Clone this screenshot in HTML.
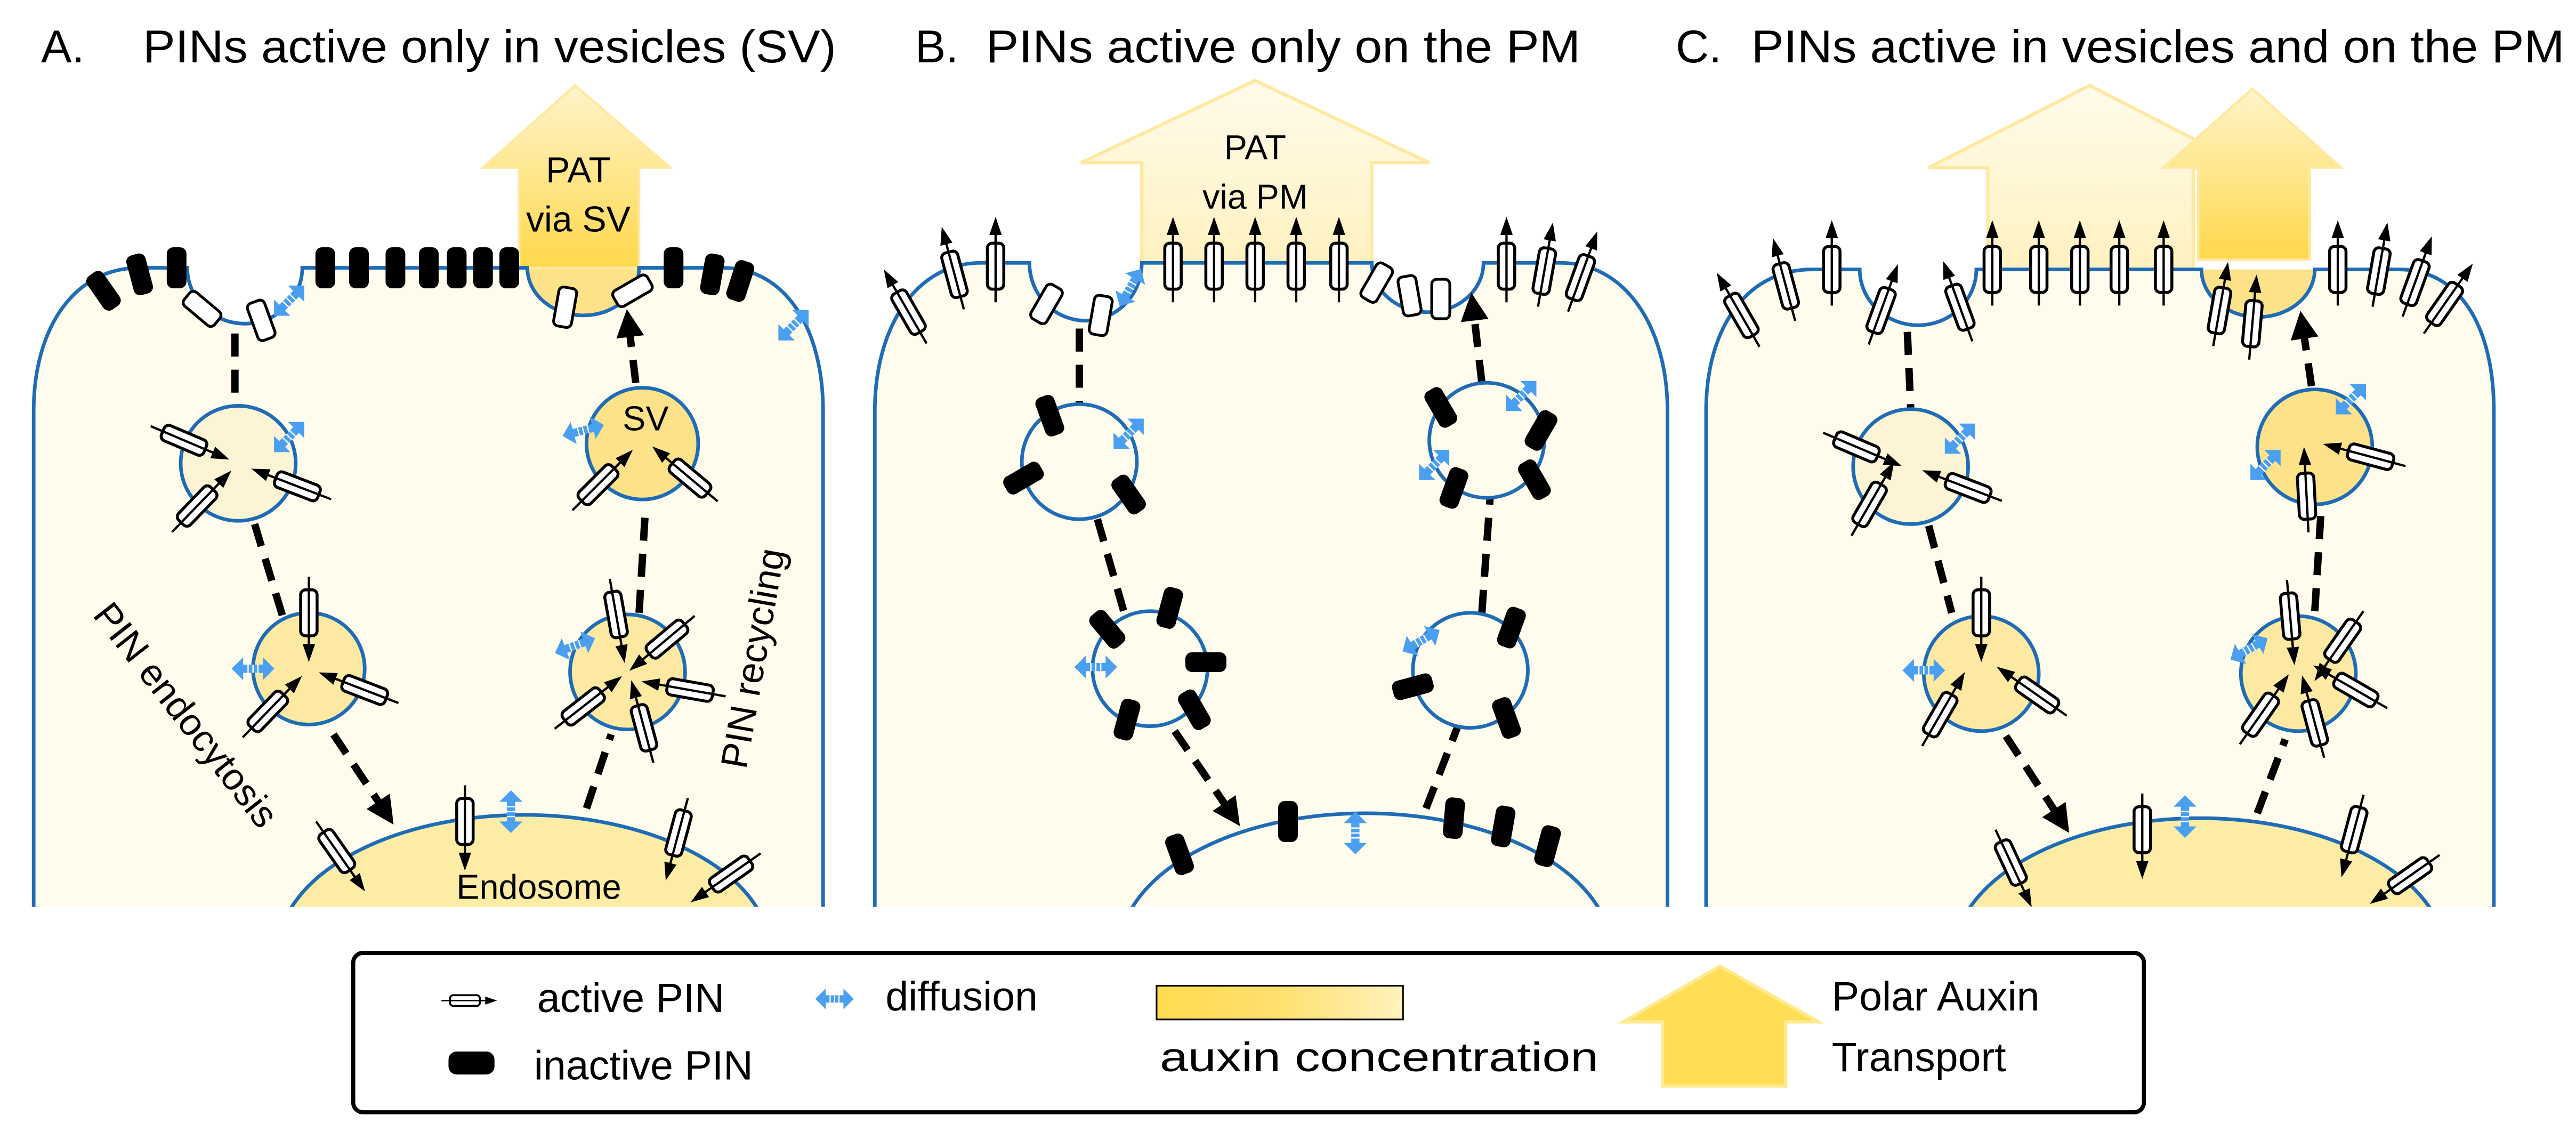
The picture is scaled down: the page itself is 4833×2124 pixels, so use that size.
<!DOCTYPE html>
<html><head><meta charset="utf-8"><style>
html,body{margin:0;padding:0;background:#fff}
svg{display:block}
text{font-family:"Liberation Sans",Arial,sans-serif;fill:#000}
</style></head><body>
<svg width="4833" height="2124" viewBox="0 0 1568 689" preserveAspectRatio="none" xmlns="http://www.w3.org/2000/svg">
<defs>
<linearGradient id="gA" x1="0" y1="0" x2="0" y2="1"><stop offset="0" stop-color="#fff4cc"/><stop offset="1" stop-color="#ffd84a"/></linearGradient>
<linearGradient id="gL" x1="0" y1="0" x2="0" y2="1"><stop offset="0" stop-color="#fffbeb"/><stop offset="1" stop-color="#fff1c0"/></linearGradient>
<linearGradient id="gH" x1="0" y1="0" x2="1" y2="0"><stop offset="0" stop-color="#ffdb4f"/><stop offset="0.5" stop-color="#ffe070"/><stop offset="1" stop-color="#fff2bd"/></linearGradient>
<clipPath id="cut"><rect x="0" y="0" width="1568" height="552"/></clipPath>
<marker id="ah" viewBox="0 0 10 10" refX="3" refY="5" markerWidth="20" markerHeight="17" markerUnits="userSpaceOnUse" orient="auto"><path d="M0,0 L10,5 L0,10 z" fill="#000"/></marker>
<g id="ap"><rect x="-5" y="-14" width="10" height="28" rx="3" fill="#fff" stroke="#000" stroke-width="1.8"/><line x1="0" y1="22" x2="0" y2="-20" stroke="#000" stroke-width="1.4"/><polygon points="0,-30 -3.8,-19 3.8,-19" fill="#000"/></g>
<g id="wp"><rect x="-5.5" y="-12" width="11" height="24" rx="3" fill="#fff" stroke="#000" stroke-width="1.7"/></g>
<g id="ip"><rect x="-6" y="-12.5" width="12" height="25" rx="4" fill="#000"/></g>
<g id="df"><polygon points="-13,0 -6,-7 -6,-2.5 6,-2.5 6,-7 13,0 6,7 6,2.5 -6,2.5 -6,7" fill="#4a9ff0"/><g stroke="#fff" stroke-width="0.8"><line x1="-3" y1="-2.5" x2="-3" y2="2.5"/><line x1="0" y1="-2.5" x2="0" y2="2.5"/><line x1="3" y1="-2.5" x2="3" y2="2.5"/></g></g>
</defs>

<!-- Titles -->
<text x="25" y="38" font-size="28">A.</text>
<text x="87" y="38" font-size="28" textLength="422" lengthAdjust="spacingAndGlyphs">PINs active only in vesicles (SV)</text>
<text x="557" y="38" font-size="28">B.</text>
<text x="600" y="38" font-size="28" textLength="362" lengthAdjust="spacingAndGlyphs">PINs active only on the PM</text>
<text x="1020" y="38" font-size="28">C.</text>
<text x="1066" y="38" font-size="28" textLength="495" lengthAdjust="spacingAndGlyphs">PINs active in vesicles and on the PM</text>

<!-- ===== Cell A ===== -->
<path d="M20.5,552 V250 C20.5,200 45,163 85,163 H114 A35,34 0 0 0 184,163 H321 A34,29 0 0 0 389,163 H440 C478,163 501,200 501,250 V552 Z" fill="#fffcee"/>
<path d="M321,163 A34,29 0 0 0 389,163 Z" fill="#fde28a"/>
<polygon points="350,52 408,102 389,102 389,163 316,163 316,102 294,102" fill="url(#gA)" stroke="#ffe9a0" stroke-width="1.5"/>
<path d="M20.5,552 V250 C20.5,200 45,163 85,163 H114 A35,34 0 0 0 184,163 H321 A34,29 0 0 0 389,163 H440 C478,163 501,200 501,250 V552" fill="none" stroke="#1f6cb5" stroke-width="2.2"/>
<text x="352" y="111" font-size="22" text-anchor="middle">PAT</text>
<text x="352" y="141" font-size="22" text-anchor="middle">via SV</text>
<use href="#ip" transform="translate(63,177) rotate(-35)"/>
<use href="#ip" transform="translate(85,167) rotate(-15)"/>
<use href="#ip" transform="translate(107.5,163)"/>
<use href="#ip" transform="translate(198,163)"/><use href="#ip" transform="translate(218.5,163)"/><use href="#ip" transform="translate(240.7,163)"/><use href="#ip" transform="translate(261,163)"/><use href="#ip" transform="translate(278,163)"/><use href="#ip" transform="translate(294,163)"/><use href="#ip" transform="translate(310,163)"/>
<use href="#ip" transform="translate(410,163)"/>
<use href="#ip" transform="translate(433.6,167) rotate(10)"/>
<use href="#ip" transform="translate(450.6,171) rotate(18)"/>
<use href="#wp" transform="translate(123,188) rotate(-50)"/>
<use href="#wp" transform="translate(159,195) rotate(-20)"/>
<use href="#wp" transform="translate(344,187) rotate(10)"/>
<use href="#wp" transform="translate(385,177) rotate(60)"/>
<use href="#df" transform="translate(176,183) rotate(-45)"/>
<use href="#df" transform="translate(483,198) rotate(-45)"/>
<g stroke="#000" stroke-width="4.5" stroke-dasharray="14 8" fill="none">
<path d="M143,203 L143,248"/>
<path d="M155,319 L172,375"/>
<path d="M203,447 L233,492" marker-end="url(#ah)"/>
<path d="M357,492 L372,447"/>
<path d="M389,373 L393,308"/>
<path d="M387,233 L383,200" marker-end="url(#ah)"/>
</g>
<ellipse cx="319" cy="580" rx="150" ry="84" fill="#fdeca5" stroke="#1f6cb5" stroke-width="2.2" clip-path="url(#cut)"/>
<text x="328" y="547" font-size="21" text-anchor="middle">Endosome</text>
<use href="#ap" transform="translate(205,518) rotate(145)"/>
<use href="#ap" transform="translate(283,500) rotate(180)"/>
<use href="#ap" transform="translate(413,507) rotate(195)"/>
<use href="#ap" transform="translate(445,532) rotate(235)"/>
<use href="#df" transform="translate(311,494) rotate(90)"/>
<circle cx="145" cy="282" r="35" fill="#fdf4d6" stroke="#1f6cb5" stroke-width="2.2"/>
<use href="#ap" transform="translate(112,268) rotate(113)"/>
<use href="#ap" transform="translate(181,296) rotate(-69)"/>
<use href="#ap" transform="translate(120,308) rotate(44)"/>
<use href="#df" transform="translate(176,266) rotate(-45)"/>
<circle cx="188" cy="407" r="34" fill="#fde9a2" stroke="#1f6cb5" stroke-width="2.2"/>
<use href="#ap" transform="translate(188,373) rotate(180)"/>
<use href="#ap" transform="translate(222,420) rotate(-69)"/>
<use href="#ap" transform="translate(163,433) rotate(44)"/>
<use href="#df" transform="translate(154,407)"/>
<circle cx="382" cy="409" r="35" fill="#fde9a2" stroke="#1f6cb5" stroke-width="2.2"/>
<use href="#ap" transform="translate(375,374) rotate(170)"/>
<use href="#ap" transform="translate(406,389) rotate(230)"/>
<use href="#ap" transform="translate(420,420) rotate(280)"/>
<use href="#ap" transform="translate(355,430) rotate(52)"/>
<use href="#ap" transform="translate(392,443) rotate(-15)"/>
<use href="#df" transform="translate(350,393) rotate(-20)"/>
<circle cx="391" cy="270" r="34" fill="#fde28a" stroke="#1f6cb5" stroke-width="2.2"/>
<text x="393" y="262" font-size="21" text-anchor="middle">SV</text>
<use href="#ap" transform="translate(364,295) rotate(45)"/>
<use href="#ap" transform="translate(420,291) rotate(-50)"/>
<use href="#df" transform="translate(355,262) rotate(-15)"/>
<text transform="translate(107,440) rotate(52)" font-size="23" text-anchor="middle">PIN endocytosis</text>
<text transform="translate(466,402) rotate(-80)" font-size="23" text-anchor="middle">PIN recycling</text>

<!-- ===== Cell B ===== -->
<path d="M532.5,552 V250 C532.5,200 557,160 597,160 H626.6 A34,35 0 0 0 695,160 H835 A34,30 0 0 0 903,160 H950 C990,160 1015,200 1015,250 V552 Z" fill="#fffcee"/>
<polygon points="764,49 870,99 835,99 835,160 695,160 695,99 658,99" fill="url(#gL)" stroke="#ffe8a0" stroke-width="2"/>
<path d="M532.5,552 V250 C532.5,200 557,160 597,160 H626.6 A34,35 0 0 0 695,160 H835 A34,30 0 0 0 903,160 H950 C990,160 1015,200 1015,250 V552" fill="none" stroke="#1f6cb5" stroke-width="2.2"/>
<text x="764" y="97" font-size="21" text-anchor="middle">PAT</text>
<text x="764" y="127" font-size="21" text-anchor="middle">via PM</text>
<use href="#ap" transform="translate(714,162)"/><use href="#ap" transform="translate(739,162)"/><use href="#ap" transform="translate(764,162)"/><use href="#ap" transform="translate(789,162)"/><use href="#ap" transform="translate(815,162)"/>
<use href="#ap" transform="translate(553,190) rotate(-30)"/>
<use href="#ap" transform="translate(581,167) rotate(-15)"/>
<use href="#ap" transform="translate(606,162)"/>
<use href="#ap" transform="translate(917,162)"/>
<use href="#ap" transform="translate(940,165) rotate(10)"/>
<use href="#ap" transform="translate(962,169) rotate(20)"/>
<use href="#wp" transform="translate(637,185) rotate(30)"/>
<use href="#wp" transform="translate(670,192) rotate(10)"/>
<use href="#df" transform="translate(688,175) rotate(-60)"/>
<use href="#wp" transform="translate(838,172) rotate(30)"/>
<use href="#wp" transform="translate(858,180) rotate(-10)"/>
<use href="#wp" transform="translate(877,182)"/>
<g stroke="#000" stroke-width="4.5" stroke-dasharray="14 8" fill="none">
<path d="M657,200 L657,246"/>
<path d="M668,316 L684,372"/>
<path d="M715,445 L748,493" marker-end="url(#ah)"/>
<path d="M868,492 L887,443"/>
<path d="M902,373 L907,303"/>
<path d="M902,233 L897,190" marker-end="url(#ah)"/>
</g>
<ellipse cx="831" cy="580" rx="150" ry="85" fill="#fffcee" stroke="#1f6cb5" stroke-width="2.2" clip-path="url(#cut)"/>
<use href="#ip" transform="translate(718,520) rotate(-20)"/>
<use href="#ip" transform="translate(784,500)"/>
<use href="#ip" transform="translate(885,498) rotate(5)"/>
<use href="#ip" transform="translate(915,503) rotate(10)"/>
<use href="#ip" transform="translate(942,515) rotate(15)"/>
<use href="#df" transform="translate(825,507) rotate(90)"/>
<circle cx="657" cy="281" r="35" fill="#fffcee" stroke="#1f6cb5" stroke-width="2.2"/>
<use href="#ip" transform="translate(639,253) rotate(-20)"/>
<use href="#ip" transform="translate(623,291) rotate(60)"/>
<use href="#ip" transform="translate(687,301) rotate(-35)"/>
<use href="#df" transform="translate(687,264) rotate(-45)"/>
<circle cx="700" cy="407" r="35" fill="#fffcee" stroke="#1f6cb5" stroke-width="2.2"/>
<use href="#ip" transform="translate(712,370) rotate(15)"/>
<use href="#ip" transform="translate(674,383) rotate(-40)"/>
<use href="#ip" transform="translate(734,403) rotate(90)"/>
<use href="#ip" transform="translate(727,432) rotate(-30)"/>
<use href="#ip" transform="translate(686,438) rotate(15)"/>
<use href="#df" transform="translate(667,406)"/>
<circle cx="895" cy="408" r="35" fill="#fffcee" stroke="#1f6cb5" stroke-width="2.2"/>
<use href="#ip" transform="translate(920,382) rotate(20)"/>
<use href="#ip" transform="translate(860,418) rotate(75)"/>
<use href="#ip" transform="translate(917,437) rotate(-20)"/>
<use href="#df" transform="translate(865,390) rotate(-30)"/>
<circle cx="905" cy="268" r="35" fill="#fffcee" stroke="#1f6cb5" stroke-width="2.2"/>
<use href="#ip" transform="translate(877,248) rotate(-30)"/>
<use href="#ip" transform="translate(938,262) rotate(30)"/>
<use href="#ip" transform="translate(934,292) rotate(-30)"/>
<use href="#ip" transform="translate(885,297) rotate(20)"/>
<use href="#df" transform="translate(926,241) rotate(-45)"/>
<use href="#df" transform="translate(873,283) rotate(-45)"/>

<!-- ===== Cell C ===== -->
<path d="M1038.5,552 V250 C1038.5,200 1063,164 1103,164 H1132 A35.5,34 0 0 0 1203,164 H1340 A34.5,29 0 0 0 1409,164 H1460 C1498,164 1518,200 1518,250 V552 Z" fill="#fffcee"/>
<polygon points="1272,52 1369,102 1335,102 1335,164 1210,164 1210,102 1174,102" fill="url(#gL)" stroke="#ffe8a0" stroke-width="2"/>
<path d="M1340,164 A34.5,29 0 0 0 1409,164 Z" fill="#fde28a"/>
<polygon points="1371,54 1425,102 1406,102 1406,158 1338,158 1338,102 1317,102" fill="url(#gA)" stroke="#ffe9a0" stroke-width="1.5"/>
<path d="M1038.5,552 V250 C1038.5,200 1063,164 1103,164 H1132 A35.5,34 0 0 0 1203,164 H1340 A34.5,29 0 0 0 1409,164 H1460 C1498,164 1518,200 1518,250 V552" fill="none" stroke="#1f6cb5" stroke-width="2.2"/>
<use href="#ap" transform="translate(1212.7,164)"/><use href="#ap" transform="translate(1241,164)"/><use href="#ap" transform="translate(1266,164)"/><use href="#ap" transform="translate(1290,164)"/><use href="#ap" transform="translate(1317,164)"/>
<use href="#ap" transform="translate(1060,192) rotate(-30)"/>
<use href="#ap" transform="translate(1087,174) rotate(-15)"/>
<use href="#ap" transform="translate(1115,164)"/>
<use href="#ap" transform="translate(1145,189) rotate(20)"/>
<use href="#ap" transform="translate(1193,187) rotate(-20)"/>
<use href="#ap" transform="translate(1351,189) rotate(10)"/>
<use href="#ap" transform="translate(1371,197) rotate(5)"/>
<use href="#ap" transform="translate(1423,164)"/>
<use href="#ap" transform="translate(1448,165) rotate(10)"/>
<use href="#ap" transform="translate(1470,172) rotate(20)"/>
<use href="#ap" transform="translate(1488,185) rotate(35)"/>
<g stroke="#000" stroke-width="4.5" stroke-dasharray="14 8" fill="none">
<path d="M1161,202 L1163,248"/>
<path d="M1174,320 L1188,373"/>
<path d="M1221,448 L1253,497" marker-end="url(#ah)"/>
<path d="M1374,495 L1391,450"/>
<path d="M1409,372 L1413,308"/>
<path d="M1407,235 L1402,201" marker-end="url(#ah)"/>
</g>
<ellipse cx="1339" cy="583" rx="150" ry="85" fill="#fdeca5" stroke="#1f6cb5" stroke-width="2.2" clip-path="url(#cut)"/>
<use href="#ap" transform="translate(1224,525) rotate(155)"/>
<use href="#ap" transform="translate(1304,505) rotate(180)"/>
<use href="#ap" transform="translate(1433,505) rotate(195)"/>
<use href="#ap" transform="translate(1467,533) rotate(235)"/>
<use href="#df" transform="translate(1330,497) rotate(90)"/>
<circle cx="1163" cy="284" r="35" fill="#fdf4d6" stroke="#1f6cb5" stroke-width="2.2"/>
<use href="#ap" transform="translate(1130,272) rotate(113)"/>
<use href="#ap" transform="translate(1198,297) rotate(-69)"/>
<use href="#ap" transform="translate(1138,307) rotate(30)"/>
<use href="#df" transform="translate(1193,267) rotate(-45)"/>
<circle cx="1206" cy="410" r="35" fill="#fde9a2" stroke="#1f6cb5" stroke-width="2.2"/>
<use href="#ap" transform="translate(1206,373) rotate(180)"/>
<use href="#ap" transform="translate(1240,423) rotate(-55)"/>
<use href="#ap" transform="translate(1181,435) rotate(30)"/>
<use href="#df" transform="translate(1171,408)"/>
<circle cx="1399" cy="410" r="35" fill="#fde9a2" stroke="#1f6cb5" stroke-width="2.2"/>
<use href="#ap" transform="translate(1394,375) rotate(175)"/>
<use href="#ap" transform="translate(1426,390) rotate(215)"/>
<use href="#ap" transform="translate(1434,420) rotate(300)"/>
<use href="#ap" transform="translate(1376,435) rotate(35)"/>
<use href="#ap" transform="translate(1409,440) rotate(-15)"/>
<use href="#df" transform="translate(1369,395) rotate(-30)"/>
<circle cx="1409" cy="272" r="35" fill="#fde28a" stroke="#1f6cb5" stroke-width="2.2"/>
<use href="#ap" transform="translate(1443,278) rotate(-75)"/>
<use href="#ap" transform="translate(1404,302) rotate(-3)"/>
<use href="#df" transform="translate(1431,243) rotate(-45)"/>
<use href="#df" transform="translate(1379,283) rotate(-45)"/>

<!-- ===== Legend ===== -->
<rect x="215" y="580" width="1090" height="97" rx="6" fill="#fff" stroke="#000" stroke-width="2.5"/>
<use href="#ap" transform="translate(283,609) rotate(90) scale(0.65)"/>
<text x="327" y="616" font-size="25">active PIN</text>
<use href="#df" transform="translate(508,608) scale(0.9)"/>
<text x="539" y="615" font-size="25">diffusion</text>
<rect x="273" y="640" width="28" height="14" rx="5" fill="#000"/>
<text x="325" y="657" font-size="25">inactive PIN</text>
<rect x="704" y="600" width="150" height="20.5" fill="url(#gH)" stroke="#000" stroke-width="1"/>
<text x="706" y="652" font-size="25" textLength="267" lengthAdjust="spacingAndGlyphs">auxin  concentration</text>
<polygon points="1047,588 1107,622 1087,622 1087,661 1012,661 1012,622 988,622" fill="#ffdd55" stroke="#ffea90" stroke-width="2"/>
<text x="1115" y="615" font-size="25">Polar Auxin</text>
<text x="1115" y="652" font-size="25">Transport</text>
</svg>
</body></html>
